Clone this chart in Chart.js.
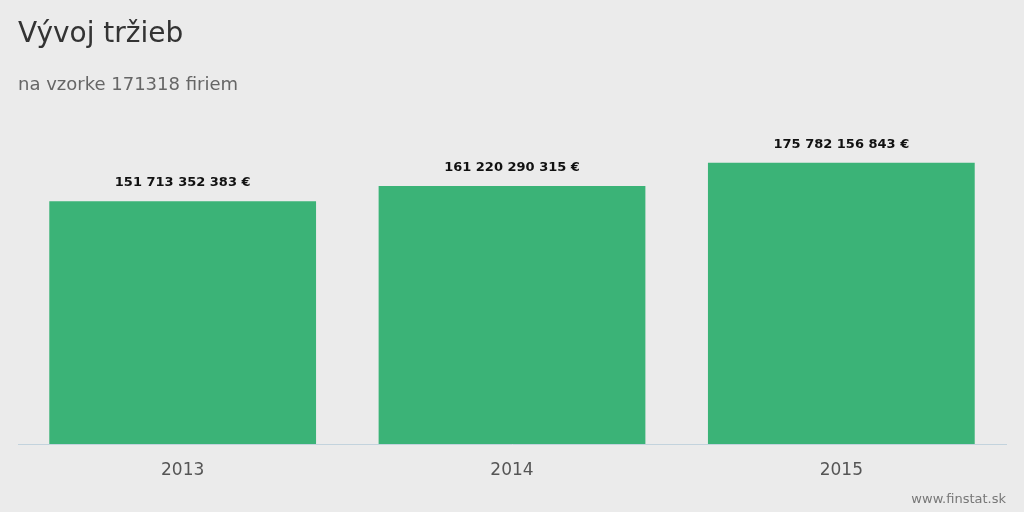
<!DOCTYPE html>
<html>
<head>
<meta charset="utf-8">
<script src="https://cdn.jsdelivr.net/npm/chart.js@4"></script>
<style>
  html, body { margin: 0; padding: 0; background: #ebebeb; }
  #wrap { width: 1024px; height: 512px; }
</style>
</head>
<body>
<div id="wrap"><canvas id="c" width="1024" height="512"></canvas></div>
<script>
// data
const years = ['2013', '2014', '2015'];
const revenues = [151713352383, 161220290315, 175782156843];
const revenueLabels = ['151 713 352 383 €', '161 220 290 315 €', '175 782 156 843 €'];

const FONT = '"DejaVu Sans", sans-serif';

// titles, value labels and watermark
const decorations = {
    id: 'decorations',
    afterDatasetsDraw(chart) {
        const ctx = chart.ctx;
        ctx.save();
        ctx.textBaseline = 'alphabetic';
        ctx.textAlign = 'left';
        ctx.fillStyle = '#333';
        ctx.font = '28px ' + FONT;
        ctx.fillText('Vývoj tržieb', 18, 42);
        ctx.fillStyle = '#666';
        ctx.font = '18px ' + FONT;
        ctx.fillText('na vzorke 171318 firiem', 18, 90);

        // value labels above bars
        ctx.textAlign = 'center';
        ctx.fillStyle = '#111';
        ctx.font = 'bold 13px ' + FONT;
        chart.getDatasetMeta(0).data.forEach((bar, i) => {
            ctx.fillText(revenueLabels[i], bar.x, bar.y - 15);
        });

        ctx.textAlign = 'right';
        ctx.fillStyle = '#777';
        ctx.font = '13px ' + FONT;
        ctx.fillText('www.finstat.sk', 1006, 503);
        ctx.restore();
    }
};

new Chart(document.getElementById('c'), {
    type: 'bar',
    data: {
        labels: years,
        datasets: [{
            data: revenues,
            backgroundColor: '#3bb377',
            categoryPercentage: 0.81,
            barPercentage: 1
        }]
    },
    options: {
        responsive: false,
        animation: false,
        layout: { padding: { left: 18, right: 18, top: 124, bottom: 0 } },
        plugins: { legend: { display: false }, tooltip: { enabled: false } },
        scales: {
            y: { display: false, min: 0, max: 200000000000 },
            x: {
                afterFit: function(scale) { scale.height = 68; },
                grid: { display: false, drawTicks: false },
                border: { color: '#c3d3dd', width: 1 },
                ticks: { color: '#555', padding: 16, font: { family: FONT, size: 17 } }
            }
        }
    },
    plugins: [decorations]
});
</script>
</body>
</html>
